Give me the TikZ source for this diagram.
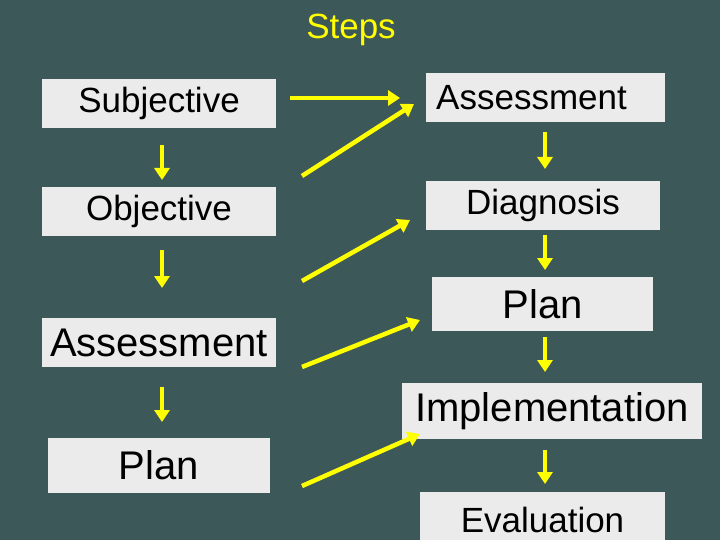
\documentclass[tikz,border=0pt]{standalone}
\usepackage{fontspec}
\setmainfont{Liberation Sans}
\usetikzlibrary{arrows.meta}
\definecolor{bg}{HTML}{3D5858}
\definecolor{bx}{HTML}{EBEBEB}
\definecolor{yl}{HTML}{FFFF00}
\begin{document}
\begin{tikzpicture}[x=1pt,y=-1pt,
 bxs/.style={fill=bx,draw=none,inner sep=0pt,font=\fontsize{35}{37}\selectfont},
 big/.style={font=\fontsize{40}{42}\selectfont},
 ar/.style={draw=yl,line width=4.5pt,-{Triangle[length=12pt,width=15pt]}}]
\fill[bg] (0,0) rectangle (720,540);
\useasboundingbox (0,0) rectangle (720,540);
\node[text=yl,font=\fontsize{35}{37}\selectfont] (t) at (351,30) {Steps};
\node[bxs,minimum width=234pt,minimum height=49pt] (s) at (159,103.5) {Subjective};
\node[bxs,minimum width=234pt,minimum height=49pt] (o) at (159,211.5) {Objective};
\node[bxs,big,minimum width=234pt,minimum height=49pt] (a) at (159,342.5) {Assessment};
\node[bxs,big,minimum width=222pt,minimum height=55pt] (p) at (159,465.5) {Plan};
\node[bxs,minimum width=239pt,minimum height=49pt] (ra) at (545.5,97.5) {\hspace*{-28pt}Assessment};
\node[bxs,minimum width=234pt,minimum height=49pt] (rd) at (543,205.5) {Diagnosis};
\node[bxs,big,minimum width=221pt,minimum height=54pt] (rp) at (542.5,304) {Plan};
\node[bxs,big,minimum width=300pt,minimum height=56pt] (ri) at (552,411) {Implementation};
\node[bxs,minimum width=245pt,minimum height=56pt] (re) at (542.5,520) {Evaluation};
\draw[ar] (162,145) -- (162,180);
\draw[ar] (162,250) -- (162,288);
\draw[ar] (162,387) -- (162,422);
\draw[ar] (545,132) -- (545,169);
\draw[ar] (545,235) -- (545,270);
\draw[ar] (545,337) -- (545,372);
\draw[ar] (545,450) -- (545,484);
\draw[ar] (290,98) -- (400,98);
\draw[ar] (302,176) -- (414,104);
\draw[ar] (302,281) -- (410,220);
\draw[ar] (302,367) -- (420,320);
\draw[ar] (302,486) -- (420,434);
\end{tikzpicture}
\end{document}
